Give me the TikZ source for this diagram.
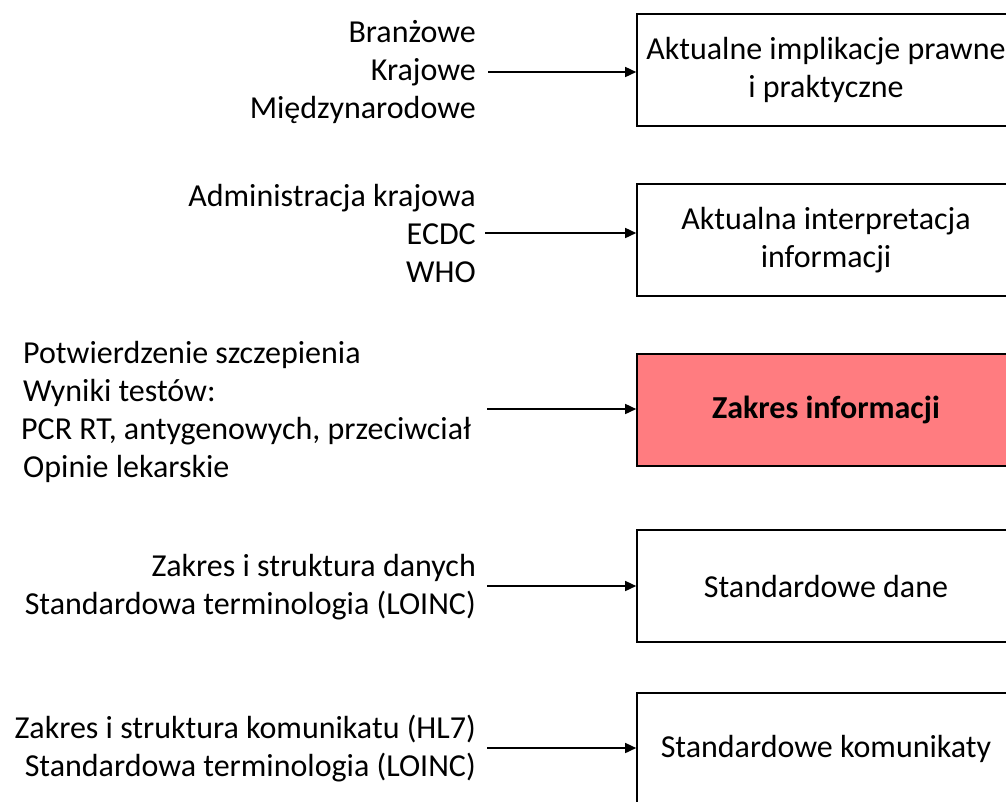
\documentclass[tikz,border=0pt]{standalone}
\usepackage{fontspec}
\setmainfont{Carlito}
\usetikzlibrary{arrows.meta}
\definecolor{boxred}{HTML}{FF7C80}
\begin{document}
\begin{tikzpicture}[x=1pt,y=-1pt,
  every node/.style={font=\fontsize{32}{38}\selectfont, inner sep=0pt},
  target/.style={draw=black, line width=1.6pt, minimum width=378pt, minimum height=112pt, align=center},
  src/.style={align=right, anchor=east},
  conn/.style={line width=1.5pt, -{Triangle[length=11pt,width=10pt]}}]
\useasboundingbox (0,0) rectangle (1006,801);
\clip (0,0) rectangle (1006,801);
% target boxes
\node[target] (b1) at (826,70) {Aktualne implikacje prawne\\i praktyczne};
\node[target] (b2) at (826,240) {Aktualna interpretacja\\informacji};
\node[target, fill=boxred] (b3) at (826,410) {\bfseries Zakres informacji};
\node[target] (b4) at (826,586) {Standardowe dane};
\node[target] (b5) at (826,749) {Standardowe komunikaty};
% source texts
\node[src] (s1) at (476,72) {Branżowe\\Krajowe\\Międzynarodowe};
\node[src] (s2) at (476,233) {Administracja krajowa\\ECDC\\WHO};
\node[align=left, anchor=west] (s3) at (21,412) {\hspace{2pt}Potwierdzenie szczepienia\\\hspace{2pt}Wyniki testów:\\PCR RT, antygenowych, przeciwciał\\\hspace{2pt}Opinie lekarskie};
\node[src] (s4) at (476,587) {Zakres i struktura danych\\Standardowa terminologia (LOINC)};
\node[src] (s5) at (476,749) {Zakres i struktura komunikatu (HL7)\\Standardowa terminologia (LOINC)\hspace{2pt}};
% arrow start points
\coordinate (c1) at (488,72);
\coordinate (c2) at (485,233);
\coordinate (c3) at (487,409);
\coordinate (c4) at (487,586);
\coordinate (c5) at (487,748);
\draw[conn] (c1) -- (b1.west |- c1);
\draw[conn] (c2) -- (b2.west |- c2);
\draw[conn] (c3) -- (b3.west |- c3);
\draw[conn] (c4) -- (b4.west |- c4);
\draw[conn] (c5) -- (b5.west |- c5);
\end{tikzpicture}
\end{document}
